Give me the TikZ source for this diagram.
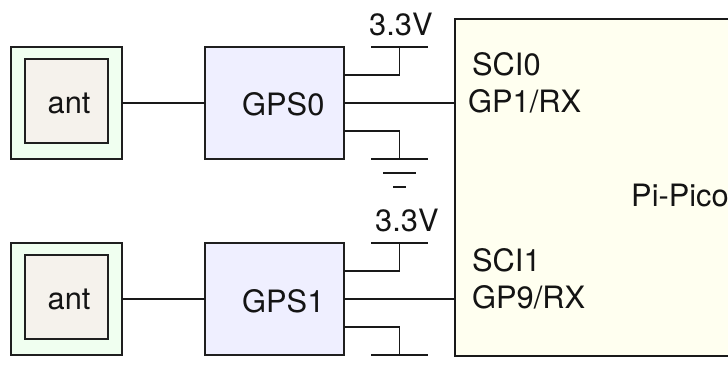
\documentclass[tikz,border=0pt]{standalone}
\usepackage{fontspec}
\setmainfont{TeX Gyre Heros}
\tikzset{
  wire/.style={draw=black!90,line width=1.3pt},
  box/.style={draw=black!88,line width=1.4pt,inner sep=0pt,outer sep=0pt,anchor=north west},
  antouter/.style={box,fill=antgreen,minimum width=111pt,minimum height=112pt},
  antinner/.style={box,fill=antbeige,minimum width=83pt,minimum height=84pt},
  gpsbox/.style={box,fill=gpsblue,minimum width=139pt,minimum height=112pt},
  lbl/.style={anchor=base west,inner sep=0pt,text=black!92,font=\fontsize{30.8pt}{32pt}\selectfont}
}
\definecolor{antgreen}{HTML}{F0FFF0}
\definecolor{antbeige}{HTML}{F5F2EC}
\definecolor{gpsblue}{HTML}{EFEFFF}
\definecolor{picoyellow}{HTML}{FFFFF0}
\begin{document}
\begin{tikzpicture}[x=1pt,y=-1pt]
\useasboundingbox (0,0) rectangle (728,368);
% Pi-Pico (runs off the right edge)
\coordinate (pTL) at (455,19);
\coordinate (pBL) at (455,356);
\coordinate (pTR) at (728,19);
\coordinate (pBR) at (728,356);
\path[fill=picoyellow] (pTL) -- (pTR) -- (pBR) -- (pBL) -- cycle;
\draw[wire,line width=1.4pt] (pTR) -- (pTL) -- (pBL) -- (pBR);
\coordinate (rx0) at (455,103);
\coordinate (rx1) at (455,299);
% antennas and receivers
\node[antouter] (ant0o) at (11,47) {};
\node[antinner] (ant0i) at (25,59) {};
\node[gpsbox] (gps0) at (205,47) {};
\node[antouter] (ant1o) at (11,243) {};
\node[antinner] (ant1i) at (25,255) {};
\node[gpsbox] (gps1) at (205,243) {};
\draw[wire] (ant0o.east) -- (gps0.west);
\draw[wire] (ant1o.east) -- (gps1.west);
\draw[wire] (gps0.east) -- (rx0);
\draw[wire] (gps1.east) -- (rx1);
% power and ground, GPS0
\coordinate (v0l) at (371,47); \coordinate (v0m) at (399.5,47); \coordinate (v0r) at (428,47);
\coordinate (g0l) at (371,159); \coordinate (g0m) at (399.5,159); \coordinate (g0r) at (428,159);
\coordinate (s0a) at (344,75); \coordinate (s0b) at (344,131);
\draw[wire] (v0l) -- (v0r);
\draw[wire] (s0a) -| (v0m);
\draw[wire] (s0b) -| (g0m);
\draw[wire] (g0l) -- (g0r);
\coordinate (g0al) at (383,173); \coordinate (g0ar) at (416,173);
\coordinate (g0bl) at (393,187); \coordinate (g0br) at (406,187);
\draw[wire] (g0al) -- (g0ar);
\draw[wire] (g0bl) -- (g0br);
% power and ground, GPS1
\coordinate (v1l) at (371,243); \coordinate (v1m) at (399.5,243); \coordinate (v1r) at (428,243);
\coordinate (g1l) at (371,355); \coordinate (g1m) at (399.5,355); \coordinate (g1r) at (428,355);
\coordinate (s1a) at (344,271); \coordinate (s1b) at (344,327);
\draw[wire] (v1l) -- (v1r);
\draw[wire] (s1a) -| (v1m);
\draw[wire] (s1b) -| (g1m);
\draw[wire] (g1l) -- (g1r);
% labels
\node[lbl] (t1) at (47.5,113) {ant};
\node[lbl] (t2) at (47.5,309) {ant};
\node[lbl] (t3) at (242,115) {GPS0};
\node[lbl] (t4) at (242,312) {GPS1};
\node[lbl] (t5) at (369,35) {3.3V};
\node[lbl] (t6) at (375,231) {3.3V};
\node[lbl] (t7) at (472,75) {SCI0};
\node[lbl] (t8) at (468,112) {GP1/RX};
\node[lbl] (t9) at (472,271) {SCI1};
\node[lbl] (t10) at (472,308) {GP9/RX};
\node[lbl] (t11) at (631,206) {Pi-Pico};
\end{tikzpicture}
\end{document}
